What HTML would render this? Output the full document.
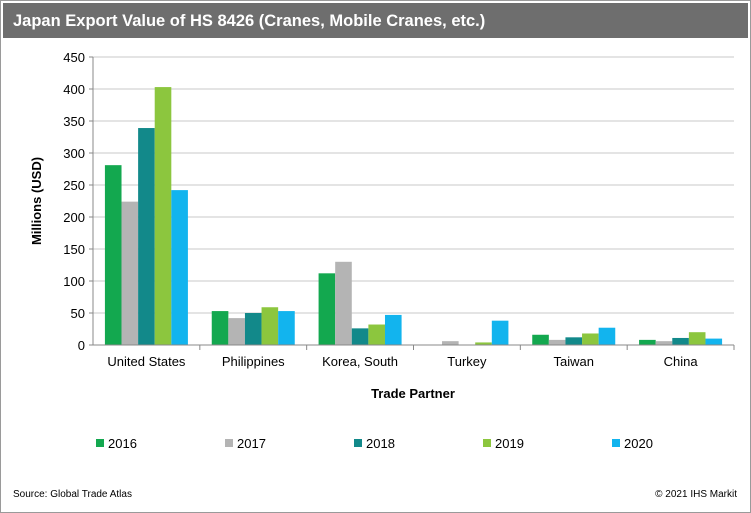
<!DOCTYPE html>
<html><head><meta charset="utf-8"><style>
body{margin:0;background:#fff;font-family:"Liberation Sans",Arial,sans-serif}
#wrap{position:relative;width:749px;height:511px;border:1px solid #9a9a9a;background:#fff}
#title{position:absolute;left:2px;top:2px;width:745px;height:35px;background:#6e6e6e;color:#fff;font-weight:bold;font-size:16.5px;line-height:36px;padding-left:10px;box-sizing:border-box}
</style></head><body>
<div id="wrap">
<div id="title">Japan Export Value of HS 8426 (Cranes, Mobile Cranes, etc.)</div>
<svg id="chart" width="749" height="511" style="position:absolute;left:0;top:0"></svg>
</div>
<script>
const categories=["United States","Philippines","Korea, South","Turkey","Taiwan","China"];
const years=["2016","2017","2018","2019","2020"];
const v2016=[281,53,112,0,16,8];
const v2017=[224,42,130,6,8,6];
const v2018=[339,50,26,0,12,11];
const v2019=[403,59,32,4,18,20];
const v2020=[242,53,47,38,27,10];
const yTicks=[0,50,100,150,200,250,300,350,400,450];
const series=[v2016,v2017,v2018,v2019,v2020];
const colors=["#13a84f","#b4b4b4","#12898a","#8cc63e","#12b4ee"];
const svg=document.getElementById('chart');
const NS="http://www.w3.org/2000/svg";
const X0=92,X1=733,Y0=344,Y1=56,YMAX=450;
const y=v=>Y0-(v/YMAX)*(Y0-Y1);
const gw=(X1-X0)/categories.length;
const bw=16.6;
const x=(i,s)=>X0+i*gw+(gw-bw*5)/2+s*bw;
function mk(t,a,txt){const e=document.createElementNS(NS,t);for(const k in a)e.setAttribute(k,a[k]);if(txt!==undefined)e.textContent=txt;svg.appendChild(e);return e;}
yTicks.forEach(t=>{
 if(t>0){const g=mk('line',{x1:X0,x2:X1,y1:y(t),y2:y(t),stroke:'#c8c8c8','stroke-width':1});
 
 }
 const l=mk('text',{x:X0-8,y:y(t)+5,'text-anchor':'end','font-size':13,fill:'#000'},t);
 
 
 const tk=mk('line',{x1:X0-4,x2:X0,y1:y(t),y2:y(t),stroke:'#888'});
 
 
});
series.forEach((arr,s)=>arr.forEach((v,i)=>{
 const r=mk('rect',{x:x(i,s),y:y(v),width:bw,height:Y0-y(v),fill:colors[s]});
 
 
}));
const ax=mk('line',{x1:X0,x2:X0,y1:Y1,y2:Y0,stroke:'#888'});


const bx=mk('line',{x1:X0,x2:X1,y1:Y0,y2:Y0,stroke:'#888'});


categories.forEach((c,i)=>{
 const tk=mk('line',{x1:X0+(i+1)*gw,x2:X0+(i+1)*gw,y1:Y0,y2:Y0+5,stroke:'#888'});
 
 
 const l=mk('text',{x:X0+(i+0.5)*gw,y:Y0+21,'text-anchor':'middle','font-size':13},c);
 
 
});
const yt=mk('text',{x:0,y:0,transform:'translate(40,200) rotate(-90)','text-anchor':'middle','font-size':13,'font-weight':'bold'},'Millions (USD)');


const xt=mk('text',{x:412,y:397,'text-anchor':'middle','font-size':13,'font-weight':'bold'},'Trade Partner');


const lx=[95,224,353,482,611];
years.forEach((yr,s)=>{
 const r=mk('rect',{x:lx[s],y:438,width:8,height:8,fill:colors[s]});
 
 
 const t=mk('text',{x:lx[s]+12,y:447,'font-size':13},yr);
 
 
});
const src=mk('text',{x:12,y:496,'font-size':10},'Source: Global Trade Atlas');


const cp=mk('text',{x:736,y:496,'font-size':10,'text-anchor':'end'},'© 2021 IHS Markit');


</script>
</body></html>
